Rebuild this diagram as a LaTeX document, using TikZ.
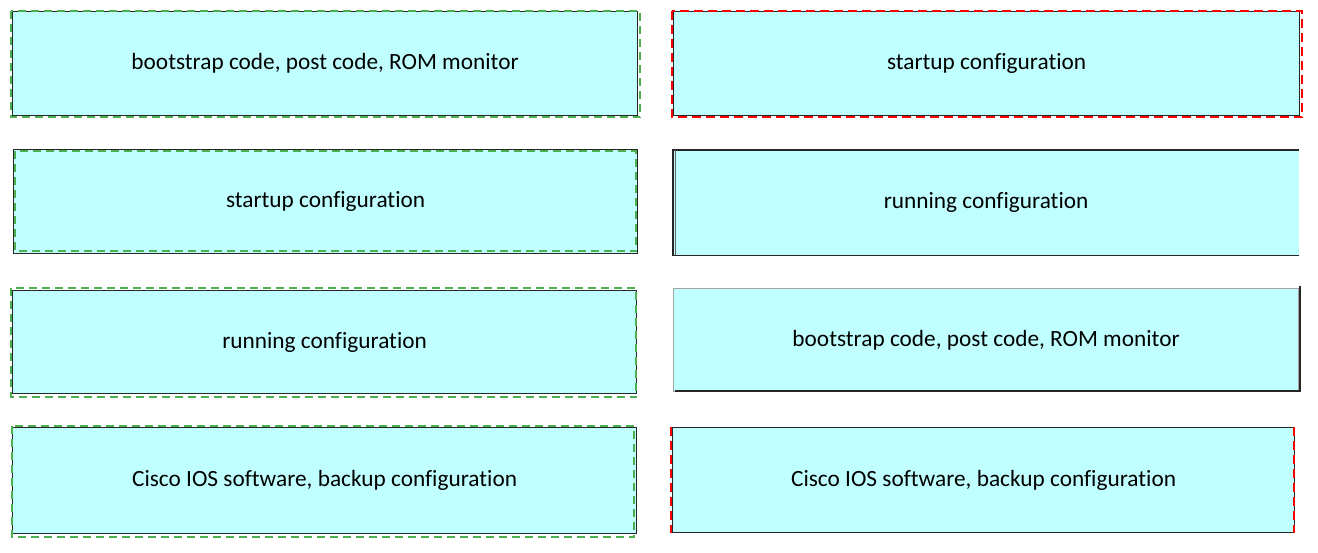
\documentclass[tikz,border=0pt]{standalone}
\usepackage{fontspec}
\setmainfont{Carlito}[RawFeature={-liga;-clig;-dlig}]
\begin{document}
\begin{tikzpicture}[x=1pt,y=-1pt,
  box/.style={draw=black!85, line width=1.2pt, fill=boxfill, minimum width=#1, minimum height=104pt, inner sep=0pt, font=\fontsize{23.3}{27}\selectfont, anchor=north west},
  box/.default=625pt,
  gdash/.style={draw=dgreen, line width=2.2pt, dash pattern=on 8pt off 5pt},
  rdash/.style={draw=dred, line width=2.5pt, dash pattern=on 9pt off 5pt}]
\definecolor{boxfill}{HTML}{C0FFFF}
\definecolor{dgreen}{HTML}{4CB050}
\definecolor{dred}{HTML}{FF0000}
\useasboundingbox (0,0) rectangle (1318,552);
% left column
\node[box=625pt] (l1) at (12,11) {bootstrap code, post code, ROM monitor};
\node[box=624pt] (l2) at (13,149) {startup configuration};
\node[box=624pt, minimum height=103pt] (l3) at (12,290) {running configuration};
\node[box=624pt, minimum height=106pt] (l4) at (12,427) {Cisco IOS software, backup configuration};
\draw[gdash] ([xshift=-1pt]l1.north west) rectangle ([xshift=2pt,yshift=-1pt]l1.south east);
\draw[gdash] ([xshift=2pt,yshift=-2pt]l2.north west) rectangle ([xshift=-2pt,yshift=3pt]l2.south east);
\draw[gdash] ([xshift=-1pt,yshift=2pt]l3.north west) rectangle ([xshift=-1pt,yshift=-3pt]l3.south east);
\draw[gdash] ([yshift=1pt]l4.north west) rectangle ([xshift=-3pt,yshift=-3pt]l4.south east);
% right column
\node[box=626pt] (r1) at (673,11) {startup configuration};
\node[box=625pt, draw=none] (r2) at (673,150) {running configuration};
\draw[black!85, line width=1.2pt] (r2.north east) -- (r2.north west) -- (r2.south west) -- (r2.south east);
\draw[black!60, line width=0.8pt] ([xshift=2pt]r2.north west) -- ([xshift=2pt]r2.south west);
\node[box=625pt, minimum height=103pt, draw=black!35] (r3) at (673,288) {bootstrap code, post code, ROM monitor};
\draw[black!85, line width=1.8pt] ([xshift=1pt,yshift=2pt]r3.north east) -- ([xshift=1pt,yshift=1pt]r3.south east) -- ([xshift=2pt,yshift=1pt]r3.south west);
\node[box=622pt, minimum height=105pt] (r4) at (672,427) {Cisco IOS software, backup configuration};
\draw[rdash] ([xshift=-1pt]r1.north west) rectangle ([xshift=2pt,yshift=-1pt]r1.south east);
\draw[rdash, line width=1.5pt] ([xshift=-1pt]r4.north west) -- ([xshift=-1pt]r4.south west);
\draw[rdash] ([xshift=-1pt]r4.north east) -- ([xshift=-1pt]r4.south east);
\end{tikzpicture}
\end{document}
